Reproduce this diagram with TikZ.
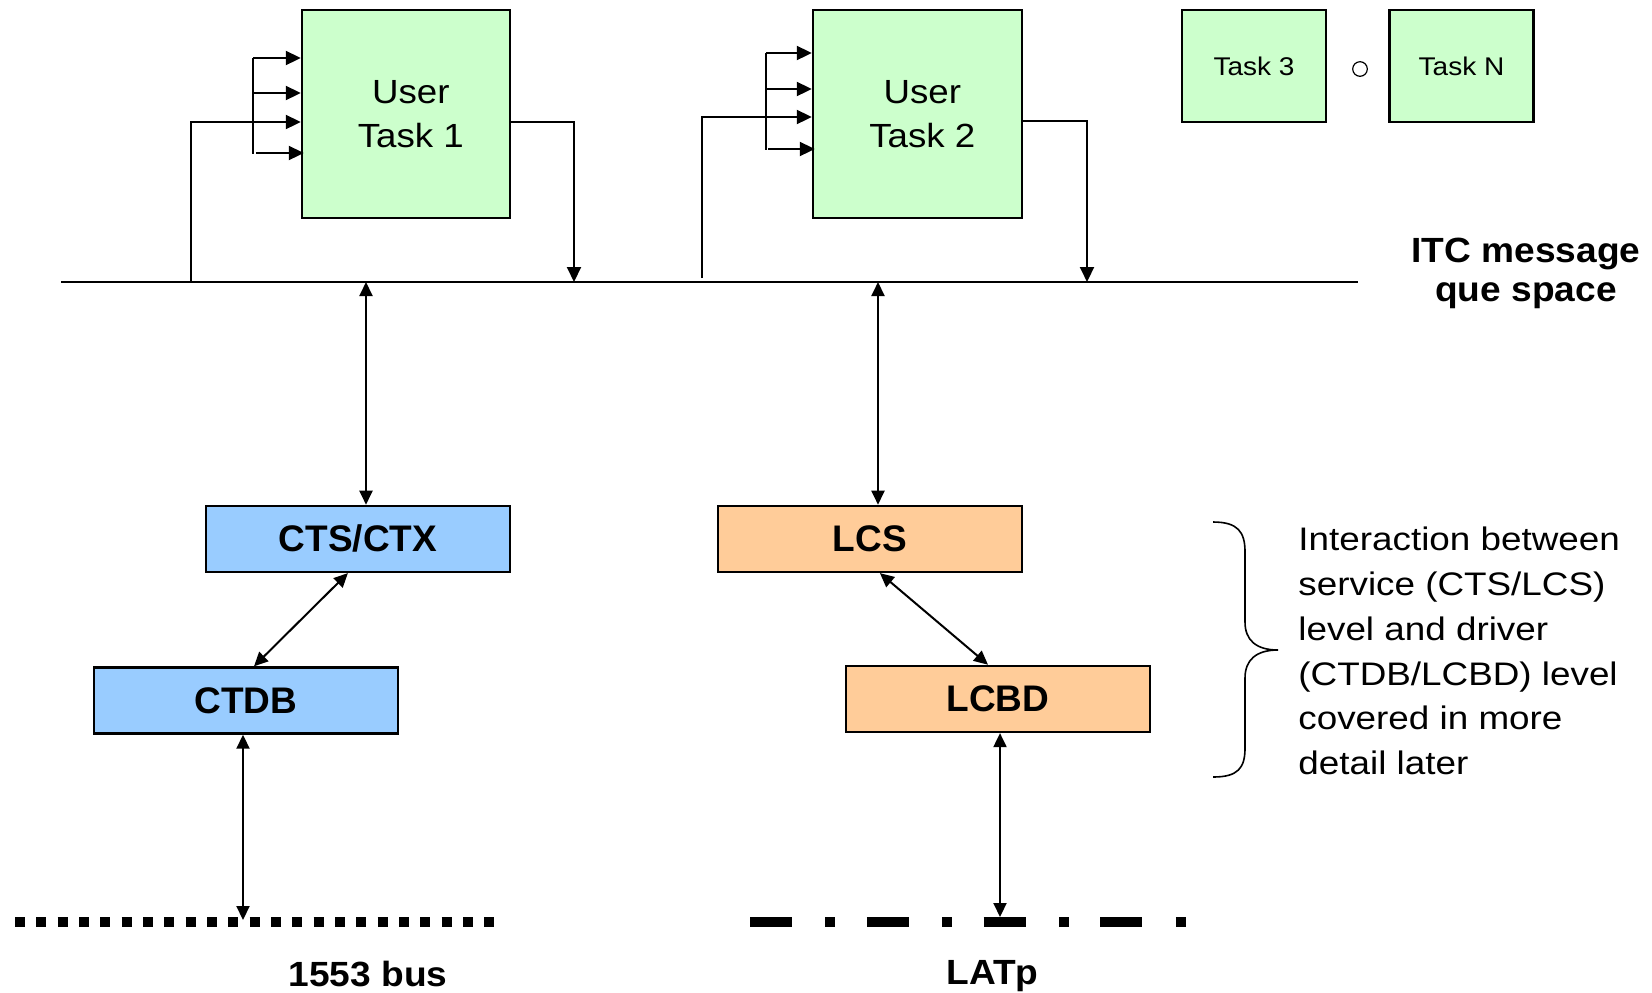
\documentclass[tikz,border=0pt]{standalone}
\usepackage{fontspec}
\setmainfont{Liberation Sans}
\newfontfamily\notefont[FakeStretch=1.13]{Liberation Sans}
\newfontfamily\taskfont[FakeStretch=1.095]{Liberation Sans}
\newfontfamily\labelfont[FakeStretch=1.06]{Liberation Sans}
\usetikzlibrary{arrows.meta}
\definecolor{taskgreen}{HTML}{CCFFCC}
\definecolor{ctsblue}{HTML}{99CCFF}
\definecolor{lcsorange}{HTML}{FFCC99}
% lines of a task label, set a little right of the box centre
\newcommand{\tline}[1]{\hspace*{4.8pt}#1}
\tikzset{
  box/.style={draw=black, line width=1.2pt, inner sep=0pt, align=center},
  bigtask/.style={box, fill=taskgreen, minimum width=104pt, minimum height=104pt,
    font=\taskfont\fontsize{16.75}{22.2}\selectfont},
  smalltask/.style={box, fill=taskgreen, minimum width=72pt, minimum height=56pt,
    font=\taskfont\fontsize{12.8}{15}\selectfont},
  layerbox/.style={box, minimum width=152pt, minimum height=33pt,
    font=\fontsize{18.5}{20}\selectfont\bfseries},
  wire/.style={line width=1pt},
  arr/.style={wire, -{Triangle[length=7.5pt,width=7pt]}},
  biarr/.style={wire, {Triangle[length=7pt,width=6.5pt]}-{Triangle[length=7pt,width=6.5pt]}},
  buslabel/.style={font=\labelfont\fontsize{17.5}{19}\selectfont\bfseries, anchor=base},
}
\begin{document}
\begin{tikzpicture}[x=0.5pt, y=-0.5pt]
\useasboundingbox (0,0) rectangle (1652,992);

% tasks
\node[bigtask] (t1) at (406,114) {\tline{User}\\\tline{Task 1}};
\node[bigtask, minimum width=104.5pt] (t2) at (917.5,114) {\tline{User}\\\tline{Task 2}};
\node[smalltask] (t3) at (1254,66) {Task 3};
\node[smalltask] (tn) at (1461.5,66) {Task N};
\node[circle, draw, line width=0.6pt, minimum size=7.3pt, inner sep=0pt] (more) at (1360,69) {};

% message queue space
\coordinate (busL) at (61,282);
\coordinate (busR) at (1358,282);
\draw[wire] (busL) -- (busR);
\node[font=\labelfont\fontsize{17.5}{19.2}\selectfont\bfseries, align=center] (itc) at (1526,273.5) {ITC message\\que space};

% inputs of task 1
\coordinate (i1a) at (253,58);
\coordinate (i1b) at (253,93);
\coordinate (i1d) at (256,153);
\draw[wire] (253,58) -- (253,154);
\draw[arr] (i1a) -- (i1a -| t1.west);
\draw[arr] (i1b) -- (i1b -| t1.west);
\draw[arr] (i1d) -- ([xshift=1.5pt]i1d -| t1.west);
\coordinate (f1) at (191,282);
\coordinate (f1t) at (191,122);
\draw[arr] (f1) -- (f1t) -- (f1t -| t1.west);
\coordinate (o1t) at (574,122);
\coordinate (o1) at (574,282);
\draw[arr] (o1t -| t1.east) -- (o1t) -- (o1);

% inputs of task 2
\coordinate (i2a) at (766,53);
\coordinate (i2b) at (766,89);
\coordinate (i2d) at (768,149);
\draw[wire] (766,53) -- (766,150);
\draw[arr] (i2a) -- (i2a -| t2.west);
\draw[arr] (i2b) -- (i2b -| t2.west);
\draw[arr] (i2d) -- ([xshift=1.5pt]i2d -| t2.west);
\coordinate (f2) at (702,278);
\coordinate (f2t) at (702,117);
\draw[arr] (f2) -- (f2t) -- (f2t -| t2.west);
\coordinate (o2t) at (1087,121);
\coordinate (o2) at (1087,282);
\draw[arr] (o2t -| t2.east) -- (o2t) -- (o2);

% service and driver levels
\node[layerbox, fill=ctsblue] (cts) at (357.9,538.9) {CTS/CTX};
\node[layerbox, fill=lcsorange] (lcs) at (869.9,538.9) {LCS};
\node[layerbox, fill=ctsblue] (ctdb) at (246,700.5) {CTDB};
\node[layerbox, fill=lcsorange] (lcbd) at (998,698.9) {LCBD};

\coordinate (q1) at (366,282);
\coordinate (q2) at (878,282);
\draw[biarr] (q1) -- (q1 |- cts.north);
\draw[biarr] (q2) -- (q2 |- lcs.north);
\draw[biarr] ([xshift=-5pt]cts.south) -- ([xshift=4pt]ctdb.north);
\draw[biarr] ([xshift=5pt]lcs.south) -- ([xshift=-5pt]lcbd.north);

% buses
\draw[line width=5pt, dash pattern=on 5pt off 5.667pt] (15,921.7) -- (494,921.7);
\draw[line width=5pt, dash pattern=on 21pt off 16.7pt on 5pt off 15.7pt] (750,921.7) -- (1187,921.7);
\coordinate (bus1) at (243,920);
\coordinate (bus2) at (1000,917);
\draw[biarr] (bus1 |- ctdb.south) -- (bus1);
\draw[biarr] (bus2 |- lcbd.south) -- (bus2);
\node[buslabel] (b1553) at (368,986) {1553 bus};
\node[buslabel] (blatp) at (992.5,984) {LATp};

% brace and note
\draw[line width=0.8pt] (1213,522) .. controls (1238,522) and (1245,532) .. (1245,552)
  -- (1245,622) .. controls (1245,640) and (1256,650) .. (1278,650)
  .. controls (1256,650) and (1245,660) .. (1245,678)
  -- (1245,748) .. controls (1245,768) and (1238,777) .. (1213,777);
\node[anchor=west, align=left, font=\notefont\fontsize{16.3}{22.35}\selectfont, inner sep=0pt] (note) at (1298,651)
  {Interaction between\\service (CTS/LCS)\\level and driver\\(CTDB/LCBD) level\\covered in more\\detail later};
\end{tikzpicture}
\end{document}
